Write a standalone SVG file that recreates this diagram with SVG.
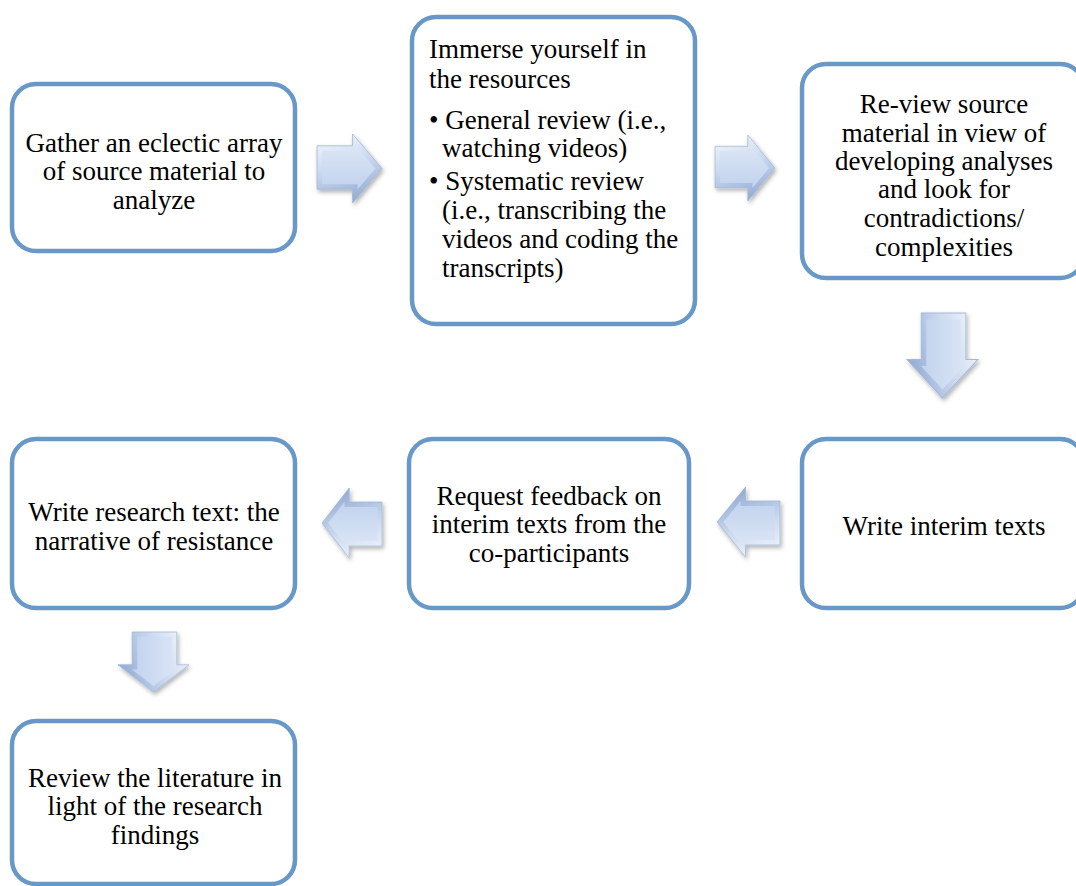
<svg xmlns="http://www.w3.org/2000/svg" xmlns:xlink="http://www.w3.org/1999/xlink" width="1076" height="886" viewBox="0 0 1076 886">
<style>
.box{fill:#ffffff;stroke:#6898c8;stroke-width:4.5}
.t{font-family:"Liberation Serif","Times New Roman",serif;font-size:27px;fill:#000}
.c{text-anchor:middle}
</style>
<defs>
<linearGradient id="ag" x1="0" y1="0" x2="0" y2="1">
<stop offset="0" stop-color="#e2eaf8"/>
<stop offset="1" stop-color="#b9cdea"/>
</linearGradient>
<linearGradient id="bev" x1="0" y1="0" x2="0.3" y2="1">
<stop offset="0" stop-color="#f6f9fe"/>
<stop offset="0.5" stop-color="#cddbf0"/>
<stop offset="1" stop-color="#98b0d6"/>
</linearGradient>
<path id="ap" d="M0,12 H35 V0 L64,35 L35,70 V56 H0 Z"/>
<clipPath id="ac"><use xlink:href="#ap" href="#ap"/></clipPath>
<g id="arrow">
<use xlink:href="#ap" href="#ap" fill="url(#ag)"/>
<use xlink:href="#ap" href="#ap" fill="none" stroke="url(#bev)" stroke-width="10" clip-path="url(#ac)"/>
<use xlink:href="#ap" href="#ap" fill="none" stroke="#a3b8d6" stroke-width="0.8"/>
</g>
<filter id="sh" x="-20%" y="-20%" width="150%" height="150%">
<feDropShadow dx="1.5" dy="2.5" stdDeviation="2" flood-color="#000" flood-opacity="0.3"/>
</filter>
</defs>

<g id="connectors">
<g filter="url(#sh)"><g transform="translate(317,134) scale(1.016,0.986)"><use xlink:href="#arrow" href="#arrow"/></g></g>
<g filter="url(#sh)"><g transform="translate(715,135) scale(0.9375,0.943)"><use xlink:href="#arrow" href="#arrow"/></g></g>
<g filter="url(#sh)"><g transform="translate(978,313) rotate(90) scale(1.328,1.014)"><use xlink:href="#arrow" href="#arrow"/></g></g>
<g filter="url(#sh)"><g transform="translate(780,557) rotate(180) scale(0.984,1)"><use xlink:href="#arrow" href="#arrow"/></g></g>
<g filter="url(#sh)"><g transform="translate(382,558) rotate(180) scale(0.9375,1)"><use xlink:href="#arrow" href="#arrow"/></g></g>
<g filter="url(#sh)"><g transform="translate(189,632) rotate(90) scale(0.9375,1.014)"><use xlink:href="#arrow" href="#arrow"/></g></g>
</g>

<g id="n1">
<rect class="box" x="12" y="84" width="283" height="167" rx="24"/>
<text class="t c" x="154" y="152">Gather an eclectic array</text>
<text class="t c" x="154" y="180">of source material to</text>
<text class="t c" x="154" y="209">analyze</text>
</g>

<g id="n2">
<rect class="box" x="412" y="17" width="283" height="307" rx="24"/>
<text class="t" x="429" y="58">Immerse yourself in</text>
<text class="t" x="429" y="88">the resources</text>
<text class="t" x="429" y="129">• General review (i.e.,</text>
<text class="t" x="442" y="157">watching videos)</text>
<text class="t" x="429" y="190">• Systematic review</text>
<text class="t" x="442" y="219">(i.e., transcribing the</text>
<text class="t" x="442" y="248">videos and coding the</text>
<text class="t" x="442" y="277">transcripts)</text>
</g>

<g id="n3">
<rect class="box" x="802" y="64" width="282" height="214" rx="24"/>
<text class="t c" x="944" y="113">Re-view source</text>
<text class="t c" x="944" y="142">material in view of</text>
<text class="t c" x="944" y="170">developing analyses</text>
<text class="t c" x="944" y="198">and look for</text>
<text class="t c" x="944" y="227">contradictions/</text>
<text class="t c" x="944" y="256">complexities</text>
</g>

<g id="n4">
<rect class="box" x="802" y="439" width="282" height="169" rx="24"/>
<text class="t c" x="944" y="535">Write interim texts</text>
</g>

<g id="n5">
<rect class="box" x="409" y="439" width="280" height="169" rx="24"/>
<text class="t c" x="549" y="505">Request feedback on</text>
<text class="t c" x="549" y="533">interim texts from the</text>
<text class="t c" x="549" y="562">co-participants</text>
</g>

<g id="n6">
<rect class="box" x="12" y="439" width="283" height="169" rx="24"/>
<text class="t c" x="154" y="521">Write research text: the</text>
<text class="t c" x="154" y="550">narrative of resistance</text>
</g>

<g id="n7">
<rect class="box" x="12" y="721" width="283" height="163" rx="24"/>
<text class="t c" x="155" y="787">Review the literature in</text>
<text class="t c" x="155" y="815">light of the research</text>
<text class="t c" x="155" y="844">findings</text>
</g>
</svg>
